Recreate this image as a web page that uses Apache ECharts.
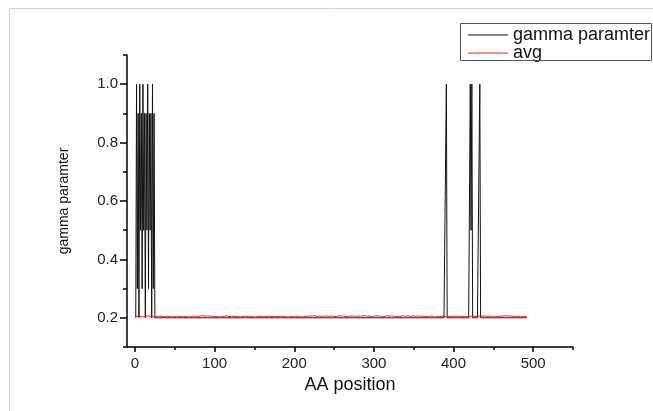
<!DOCTYPE html>
<html>
<head>
<meta charset="utf-8">
<script src="https://cdn.jsdelivr.net/npm/echarts@6/dist/echarts.min.js"></script>
<style>html,body{margin:0;padding:0;background:#fff;overflow:hidden}#c{width:653px;height:411px}</style>
</head>
<body>
<div id="c"></div>
<script>
// ---- data ----
const seriesNames = ['gamma paramter', 'avg'];
const xLabelValues = [0, 100, 200, 300, 400, 500];
const xMinorValues = [50, 150, 250, 350, 450, 550];
const yLabelValues = [0.2, 0.4, 0.6, 0.8, 1.0];
const yMinorValues = [0.1, 0.3, 0.5, 0.7, 0.9, 1.1];

// gamma parameter per AA position (1..492)
const gamma = [
 // 1-25
 .2,1,.3,.9,.2,1,.5,.9,.3,1,.5,.9,.2,.9,.5,1,.3,.9,.5,.9,.2,1,.3,.9,.2,
 // 26-385 (18 rows of 20)
 .2,.2,.2,.2,.2,.2,.2,.2,.2,.2,.2,.2,.2,.2,.2,.2,.2,.2,.2,.2,
 .2,.2,.2,.2,.2,.2,.2,.2,.2,.2,.2,.2,.2,.2,.2,.2,.2,.2,.2,.2,
 .2,.2,.2,.2,.2,.2,.2,.2,.2,.2,.2,.2,.2,.2,.2,.2,.2,.2,.2,.2,
 .2,.2,.2,.2,.2,.2,.2,.2,.2,.2,.2,.2,.2,.2,.2,.2,.2,.2,.2,.2,
 .2,.2,.2,.2,.2,.2,.2,.2,.2,.2,.2,.2,.2,.2,.2,.2,.2,.2,.2,.2,
 .2,.2,.2,.2,.2,.2,.2,.2,.2,.2,.2,.2,.2,.2,.2,.2,.2,.2,.2,.2,
 .2,.2,.2,.2,.2,.2,.2,.2,.2,.2,.2,.2,.2,.2,.2,.2,.2,.2,.2,.2,
 .2,.2,.2,.2,.2,.2,.2,.2,.2,.2,.2,.2,.2,.2,.2,.2,.2,.2,.2,.2,
 .2,.2,.2,.2,.2,.2,.2,.2,.2,.2,.2,.2,.2,.2,.2,.2,.2,.2,.2,.2,
 .2,.2,.2,.2,.2,.2,.2,.2,.2,.2,.2,.2,.2,.2,.2,.2,.2,.2,.2,.2,
 .2,.2,.2,.2,.2,.2,.2,.2,.2,.2,.2,.2,.2,.2,.2,.2,.2,.2,.2,.2,
 .2,.2,.2,.2,.2,.2,.2,.2,.2,.2,.2,.2,.2,.2,.2,.2,.2,.2,.2,.2,
 .2,.2,.2,.2,.2,.2,.2,.2,.2,.2,.2,.2,.2,.2,.2,.2,.2,.2,.2,.2,
 .2,.2,.2,.2,.2,.2,.2,.2,.2,.2,.2,.2,.2,.2,.2,.2,.2,.2,.2,.2,
 .2,.2,.2,.2,.2,.2,.2,.2,.2,.2,.2,.2,.2,.2,.2,.2,.2,.2,.2,.2,
 .2,.2,.2,.2,.2,.2,.2,.2,.2,.2,.2,.2,.2,.2,.2,.2,.2,.2,.2,.2,
 .2,.2,.2,.2,.2,.2,.2,.2,.2,.2,.2,.2,.2,.2,.2,.2,.2,.2,.2,.2,
 .2,.2,.2,.2,.2,.2,.2,.2,.2,.2,.2,.2,.2,.2,.2,.2,.2,.2,.2,.2,
 // 386-390
 .2,.2,.2,.2,.2,
 // 391
 1,
 // 392-420
 .2,.2,.2,.2,.2,.2,.2,.2,.2,.2,.2,.2,.2,.2,.2,.2,.2,.2,.2,.2,
 .2,.2,.2,.2,.2,.2,.2,.2,.2,
 // 421-423
 1,.5,1,
 // 424-432
 .2,.2,.2,.2,.2,.2,.2,.2,.2,
 // 433
 1,
 // 434-492
 .2,.2,.2,.2,.2,.2,.2,.2,.2,.2,.2,.2,.2,.2,.2,.2,.2,.2,.2,.2,
 .2,.2,.2,.2,.2,.2,.2,.2,.2,.2,.2,.2,.2,.2,.2,.2,.2,.2,.2,.2,
 .2,.2,.2,.2,.2,.2,.2,.2,.2,.2,.2,.2,.2,.2,.2,.2,.2,.2,.2
];

// average per AA position (1..492)
const avg = [
 .205,.206,.204,.205,.207,.205,.204,.206,.205,.203,.205,.206,.205,.204,.206,.207,.205,.204,.205,.206,
 .204,.205,.206,.205,.203,.205,.206,.204,.205,.207,.206,.205,.204,.205,.206,.205,.204,.206,.205,.205,
 .206,.204,.205,.207,.205,.204,.205,.206,.203,.205,.206,.205,.207,.204,.205,.206,.205,.204,.206,.205,
 .205,.207,.204,.205,.206,.205,.203,.206,.205,.204,.205,.207,.206,.204,.205,.205,.206,.204,.205,.206,
 .204,.206,.205,.205,.207,.204,.205,.206,.205,.203,.206,.205,.204,.206,.205,.207,.205,.204,.206,.205,
 .206,.205,.204,.205,.206,.203,.205,.207,.205,.204,.206,.205,.205,.204,.207,.205,.206,.204,.205,.205,
 .205,.204,.206,.205,.207,.205,.204,.205,.206,.204,.205,.206,.203,.205,.206,.205,.204,.207,.205,.206,
 .204,.205,.206,.204,.205,.207,.205,.204,.206,.205,.203,.205,.206,.205,.204,.206,.205,.207,.204,.205,
 .206,.205,.204,.206,.205,.205,.207,.204,.205,.206,.205,.204,.203,.206,.205,.205,.206,.204,.205,.207,
 .205,.204,.206,.205,.204,.206,.205,.207,.205,.204,.206,.205,.203,.205,.206,.204,.205,.206,.205,.204,
 .206,.205,.207,.204,.205,.206,.205,.204,.205,.206,.203,.205,.207,.205,.204,.206,.205,.205,.204,.206,
 .205,.203,.206,.205,.204,.207,.205,.206,.204,.205,.205,.206,.204,.207,.205,.205,.204,.206,.205,.204,
 .206,.205,.204,.205,.207,.205,.206,.204,.203,.205,.206,.205,.204,.206,.205,.207,.204,.205,.206,.205,
 .204,.206,.205,.205,.204,.206,.207,.205,.204,.205,.206,.203,.205,.206,.205,.204,.205,.207,.205,.206,
 .205,.204,.206,.205,.203,.206,.205,.204,.207,.205,.206,.205,.204,.205,.206,.205,.207,.204,.205,.206,
 .206,.205,.204,.207,.205,.204,.206,.205,.205,.203,.206,.205,.204,.206,.205,.207,.205,.204,.206,.205,
 .205,.206,.204,.205,.206,.205,.207,.204,.205,.206,.205,.203,.206,.205,.204,.205,.207,.206,.204,.205,
 .204,.205,.207,.205,.206,.204,.205,.205,.206,.204,.207,.205,.205,.203,.206,.205,.204,.206,.205,.207,
 .205,.206,.204,.205,.205,.207,.204,.206,.205,.204,.205,.206,.207,.204,.205,.203,.206,.205,.204,.206,
 .206,.204,.205,.206,.205,.204,.207,.205,.206,.205,.204,.205,.206,.204,.207,.205,.205,.203,.206,.205,
 .205,.205,.206,.204,.207,.205,.204,.206,.205,.205,.206,.204,.205,.207,.205,.206,.204,.205,.203,.206,
 .204,.206,.205,.207,.205,.204,.205,.206,.205,.204,.206,.205,.207,.205,.204,.206,.205,.205,.206,.204,
 .206,.205,.204,.205,.206,.207,.205,.204,.206,.205,.203,.205,.206,.204,.205,.207,.205,.206,.204,.205,
 .205,.204,.206,.205,.205,.207,.204,.205,.206,.205,.204,.206,.205,.203,.205,.206,.207,.205,.204,.206,
 .205,.206,.204,.205,.207,.205,.204,.206,.205,.205,.204,.206
];

// ---- chart ----
const FONT = '"Liberation Sans", Arial, sans-serif';
const GAMMA_COLOR = '#111111';
const AVG_COLOR = '#e32020';
const chart = echarts.init(document.getElementById('c'), null, {renderer: 'canvas'});

const xBase = {
  type: 'value', min: -10, max: 550, position: 'bottom',
  splitLine: {show: false}
};
const yBase = {
  type: 'value', min: 0.1, max: 1.1, position: 'left',
  splitLine: {show: false}
};

chart.setOption({
  animation: false,
  backgroundColor: '#ffffff',
  grid: {left: 127, right: 80, top: 55, bottom: 64, containLabel: false},
  legend: {
    data: [
      {name: seriesNames[0], icon: 'rect', itemStyle: {color: GAMMA_COLOR}},
      {name: seriesNames[1], icon: 'rect', itemStyle: {color: AVG_COLOR}}
    ],
    orient: 'vertical',
    left: 460, top: 23,
    itemWidth: 40, itemHeight: 1, itemGap: 0,
    padding: [3, 0, 2, 8],
    borderWidth: 0,
    selectedMode: false,
    textStyle: {fontSize: 18, color: '#111', fontFamily: FONT, lineHeight: 17}
  },
  xAxis: [
    Object.assign({}, xBase, {
      name: 'AA position', nameLocation: 'middle', nameGap: 28,
      nameTextStyle: {fontSize: 18, color: '#111', fontFamily: FONT},
      axisLine: {show: true, onZero: false, lineStyle: {color: '#000', width: 1.5}},
      axisTick: {show: true, length: 5, customValues: xLabelValues, lineStyle: {color: '#000', width: 1.5}},
      axisLabel: {show: true, customValues: xLabelValues, margin: 9, fontSize: 15, color: '#222', fontFamily: FONT}
    }),
    Object.assign({}, xBase, {
      axisLine: {show: false, onZero: false},
      axisTick: {show: true, length: 3, customValues: xMinorValues, lineStyle: {color: '#000', width: 1.5}},
      axisLabel: {show: false}
    })
  ],
  yAxis: [
    Object.assign({}, yBase, {
      name: 'gamma paramter', nameLocation: 'middle', nameGap: 56,
      nameTextStyle: {fontSize: 14, color: '#111', fontFamily: FONT},
      axisLine: {show: true, onZero: false, lineStyle: {color: '#000', width: 1.5}},
      axisTick: {show: true, length: 7, customValues: yLabelValues, lineStyle: {color: '#000', width: 1.5}},
      axisLabel: {show: true, customValues: yLabelValues, margin: 9, fontSize: 15, color: '#222', fontFamily: FONT,
        formatter: v => Number(v).toFixed(1)}
    }),
    Object.assign({}, yBase, {
      axisLine: {show: false, onZero: false},
      axisTick: {show: true, length: 4, customValues: yMinorValues, lineStyle: {color: '#000', width: 1.5}},
      axisLabel: {show: false}
    })
  ],
  series: [
    {
      name: seriesNames[0], type: 'line', xAxisIndex: 0, yAxisIndex: 0,
      showSymbol: false, symbol: 'none',
      itemStyle: {color: GAMMA_COLOR},
      lineStyle: {color: GAMMA_COLOR, width: 1},
      data: gamma.map((v, i) => [i + 1, v])
    },
    {
      name: seriesNames[1], type: 'line', xAxisIndex: 0, yAxisIndex: 0,
      showSymbol: false, symbol: 'none',
      itemStyle: {color: AVG_COLOR},
      lineStyle: {color: AVG_COLOR, width: 1},
      data: avg.map((v, i) => [i + 1, v])
    }
  ],
  graphic: [
    {type: 'line', shape: {x1: 9.5, y1: 8.5, x2: 653, y2: 8.5}, style: {stroke: '#d4d4d4', lineWidth: 1}, silent: true},
    {type: 'line', shape: {x1: 9.5, y1: 8.5, x2: 9.5, y2: 411}, style: {stroke: '#d4d4d4', lineWidth: 1}, silent: true},
    {type: 'rect', shape: {x: 460.5, y: 23.5, width: 191, height: 37}, style: {fill: 'none', stroke: '#555', lineWidth: 1}, silent: true, z: 100}
  ]
});
</script>
</body>
</html>
